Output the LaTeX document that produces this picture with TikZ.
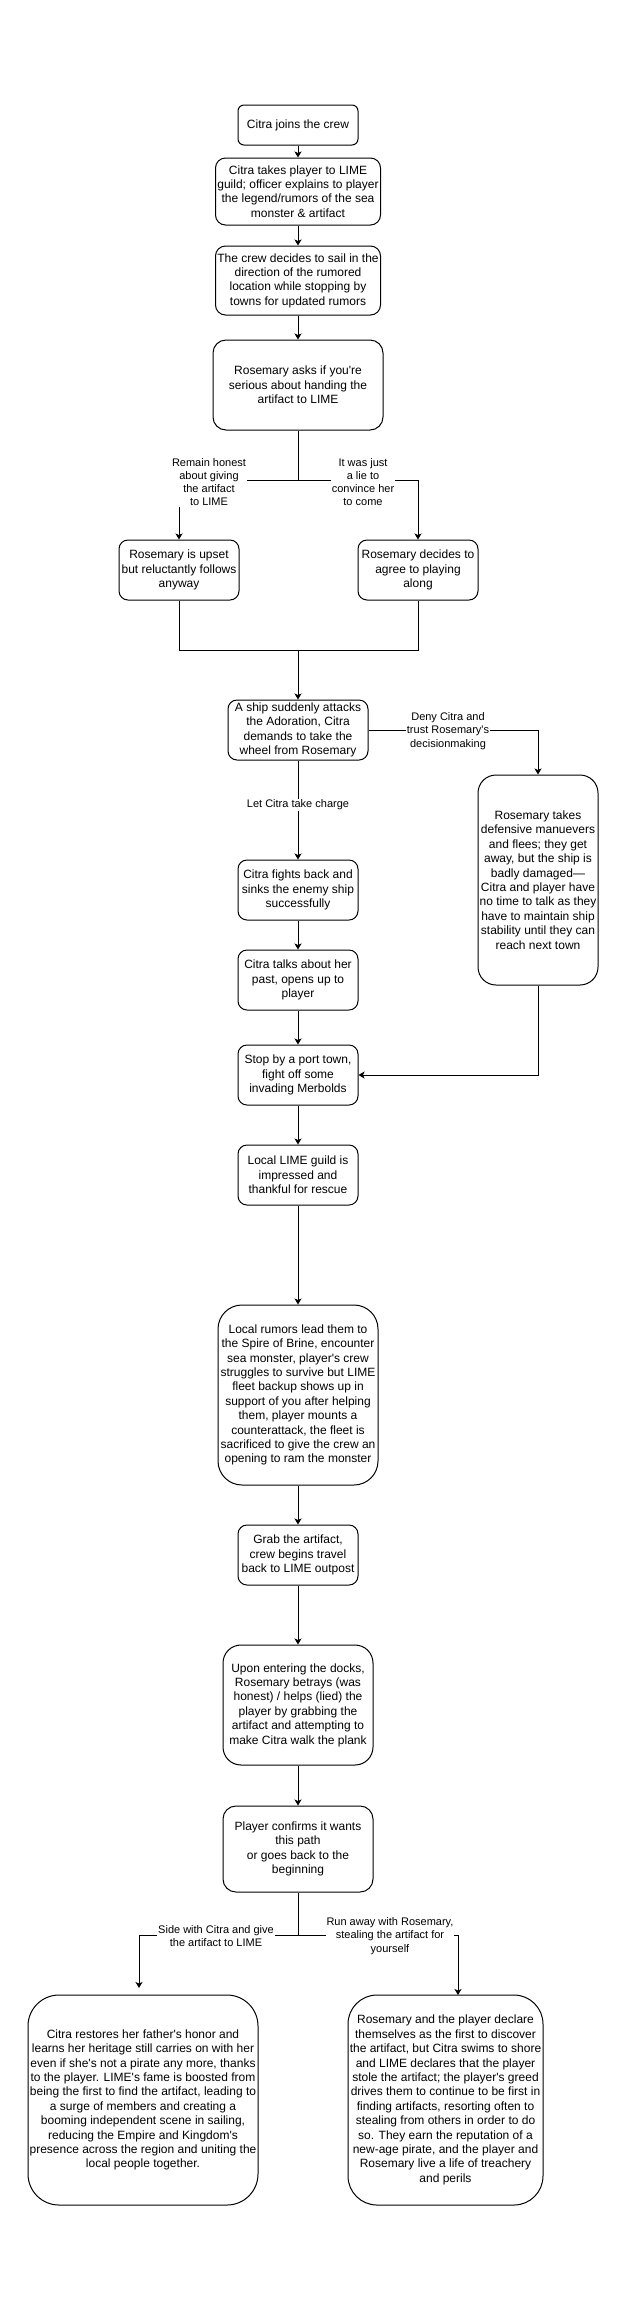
\documentclass[tikz,border=0pt]{standalone}
\usepackage{fontspec}
\setmainfont{Liberation Sans}[Ligatures=TeXOff]
\usetikzlibrary{arrows.meta}
\newcommand{\boxfont}{\fontsize{12}{14.4}\selectfont}
\newcommand{\choicefont}{\fontsize{11}{13.2}\selectfont}

\begin{document}
\begin{tikzpicture}[x=1pt,y=-1pt]
            \tikzset {
                story node/.style={
                        draw,
                        font=\boxfont,
                        align=center,
                        line width=1pt,
                        inner sep=1pt,
                        minimum width=120pt,
                        minimum height=60pt,
                        rounded corners=9pt
                    },
                choice label/.style={font=\choicefont, align=center, fill=white, inner sep=1pt},
                link/.style={line width=1pt},
                flow/.style={line width=1pt, -{Stealth[length=6pt, width=7pt, inset=1.5pt]}}
            }
            \useasboundingbox[fill=white] (0,0) rectangle (628,2311);

            % opening
            \node[story node, minimum height=40pt, rounded corners=6pt] (join) at (298,125) {Citra joins the crew};
            \node[story node, minimum width=165pt, minimum height=67pt, rounded corners=10pt] (guild) at (298,191.5) {Citra takes player to LIME\\guild; officer explains to player\\the legend/rumors of the sea\\monster \& artifact};
            \node[story node, minimum width=165pt, minimum height=69pt, rounded corners=10pt] (sail) at (298,280.5) {The crew decides to sail in the\\direction of the rumored\\location while stopping by\\towns for updated rumors};
            \node[story node, minimum width=170pt, minimum height=90pt, rounded corners=13pt] (asks) at (298,385) {Rosemary asks if you're\\serious about handing the\\artifact to LIME};

            % honest or lied
            \node[story node] (upset) at (179,570) {Rosemary is upset\\but reluctantly follows\\anyway};
            \node[story node] (agree) at (418,570) {Rosemary decides to\\agree to playing\\along};

            % attack
            \node[story node, minimum width=140pt] (ship) at (298,730) {A ship suddenly attacks\\the Adoration, Citra\\demands to take the\\wheel from Rosemary};
            \node[story node, minimum height=210pt, rounded corners=18pt] (defend) at (538,880) {Rosemary takes\\defensive manuevers\\and flees; they get\\away, but the ship is\\badly damaged—\\Citra and player have\\no time to talk as they\\have to maintain ship\\stability until they can\\reach next town};
            \node[story node] (fight) at (298,890) {Citra fights back and\\sinks the enemy ship\\successfully};
            \node[story node] (past) at (298,980) {Citra talks about her\\past, opens up to\\player};

            % port town
            \node[story node] (port) at (298,1075) {Stop by a port town,\\fight off some\\invading Merbolds};
            \node[story node] (local) at (298,1175) {Local LIME guild is\\impressed and\\thankful for rescue};
            \node[story node, minimum width=160pt, minimum height=180pt, rounded corners=24pt] (spire) at (298,1395) {Local rumors lead them to\\the Spire of Brine, encounter\\sea monster, player's crew\\struggles to survive but LIME\\fleet backup shows up in\\support of you after helping\\them, player mounts a\\counterattack, the fleet is\\sacrificed to give the crew an\\opening to ram the monster};
            \node[story node] (grab) at (298,1555) {Grab the artifact,\\crew begins travel\\back to LIME outpost};
            \node[story node, minimum width=150pt, minimum height=120pt, rounded corners=18pt] (docks) at (298,1705) {Upon entering the docks,\\Rosemary betrays (was\\honest) / helps (lied) the\\player by grabbing the\\artifact and attempting to\\make Citra walk the plank};
            \node[story node, minimum width=150pt, minimum height=86pt, rounded corners=13pt] (confirm) at (298,1849) {Player confirms it wants\\this path\\or goes back to the\\beginning};

            % endings
            \node[story node, minimum width=230pt, minimum height=210pt, rounded corners=31pt] (citraend) at (143,2100) {Citra restores her father's honor and\\learns her heritage still carries on with her\\even if she's not a pirate any more, thanks\\to the player. LIME's fame is boosted from\\being the first to find the artifact, leading to\\a surge of members and creating a\\booming independent scene in sailing,\\reducing the Empire and Kingdom's\\presence across the region and uniting the\\local people together.};
            \node[story node, minimum width=195pt, minimum height=210pt, rounded corners=29pt] (roseend) at (445.5,2100) {Rosemary and the player declare\\themselves as the first to discover\\the artifact, but Citra swims to shore\\and LIME declares that the player\\stole the artifact; the player's greed\\drives them to continue to be first in\\finding artifacts, resorting often to\\stealing from others in order to do\\so. They earn the reputation of a\\new-age pirate, and the player and\\Rosemary live a life of treachery\\and perils};

            % connectors
            \draw[flow] (join) -- (guild);
            \draw[flow] (guild) -- (sail);
            \draw[flow] (sail) -- (asks);
            \coordinate (honesty) at (298,480);
            \draw[link] (asks) -- (honesty);
            \draw[flow] (honesty) -| (upset);
            \draw[flow] (honesty) -| (agree);
            \coordinate (rejoin) at (298,650);
            \draw[link] (upset) |- (rejoin) -| (agree);
            \draw[flow] (rejoin) -- (ship);
            \draw[flow] (ship) -- node[choice label, pos=0.45] (chargelbl) {Let Citra take charge} (fight);
            \draw[flow] (ship) -| (defend);
            \draw[flow] (fight) -- (past);
            \draw[flow] (past) -- (port);
            \draw[flow] (defend) |- (port);
            \draw[flow] (port) -- (local);
            \draw[flow] (local) -- (spire);
            \draw[flow] (spire) -- (grab);
            \draw[flow] (grab) -- (docks);
            \draw[flow] (docks) -- (confirm);
            \coordinate (ending) at (298,1935);
            \coordinate (sidetip) at (139,1988);
            \coordinate (runtip) at (458,1995);
            \draw[link] (confirm) -- (ending);
            \draw[flow] (ending) -| (sidetip);
            \draw[flow] (ending) -| (runtip);

            % choice labels
            \node[choice label] (honestlbl) at (209,482) {Remain honest\\about giving\\the artifact\\to LIME};
            \node[choice label] (liedlbl) at (363,482) {It was just\\a lie to\\convince her\\to come};
            \node[choice label] (denylbl) at (448,731) {Deny Citra and\\trust Rosemary's\\decisionmaking};
            \node[choice label] (sidelbl) at (216,1936) {Side with Citra and give\\the artifact to LIME};
            \node[choice label] (runlbl) at (390,1936) {Run away with Rosemary,\\stealing the artifact for\\yourself};
        \end{tikzpicture}
\end{document}
